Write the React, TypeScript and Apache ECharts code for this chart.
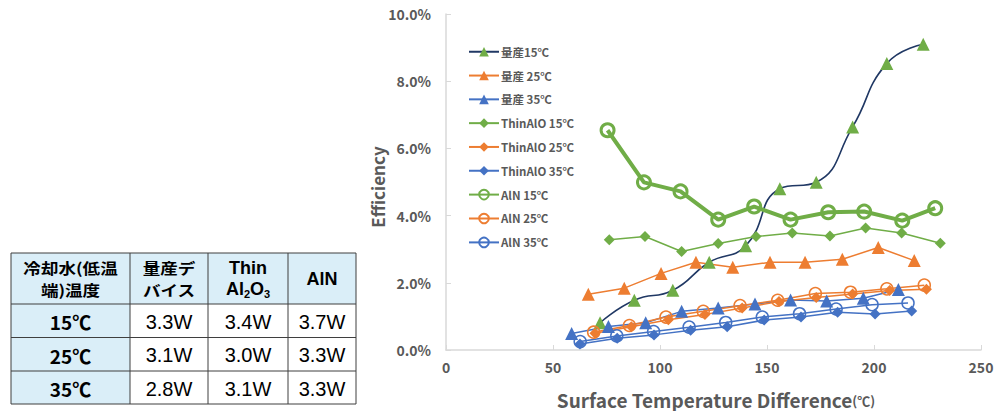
import React, { useEffect, useRef } from "react";
import * as echarts from "echarts";

// ---------- data ----------
const xTicks = { min: 0, max: 250, interval: 50 };
const yTicks = { min: 0, max: 10, interval: 2 };

const seriesNames = [
  "量産15℃",
  "量産 25℃",
  "量産 35℃",
  "ThinAlO 15℃",
  "ThinAlO 25℃",
  "ThinAlO 35℃",
  "AlN 15℃",
  "AlN 25℃",
  "AlN 35℃",
];

const mass15X = [72, 88, 106, 123, 140, 156, 173, 190, 206, 223];
const mass15Y = [0.81, 1.48, 1.78, 2.61, 3.1, 4.8, 4.99, 6.64, 8.53, 9.1];
const mass25X = [66.5, 83.3, 100.5, 116.8, 134, 151.4, 167.8, 185.2, 202, 218.8];
const mass25Y = [1.66, 1.84, 2.28, 2.61, 2.46, 2.61, 2.61, 2.7, 3.05, 2.66];
const mass35X = [58.7, 75.9, 93.3, 110.1, 127.2, 144.4, 161, 177.9, 195, 211.4];
const mass35Y = [0.49, 0.7, 0.81, 1.15, 1.25, 1.37, 1.49, 1.46, 1.54, 1.8];

const thin15X = [76.3, 93, 110.1, 127.2, 144.9, 161.8, 179.4, 196.1, 212.9, 231];
const thin15Y = [3.28, 3.38, 2.93, 3.17, 3.38, 3.48, 3.39, 3.63, 3.48, 3.18];
const thin25X = [69.6, 86.6, 103.9, 121, 138.4, 155.6, 173, 190, 207.3, 224.5];
const thin25Y = [0.5, 0.69, 0.9, 1.06, 1.25, 1.44, 1.56, 1.67, 1.77, 1.81];
const thin35X = [62.6, 80, 97.2, 114.3, 131.4, 148.7, 165.9, 183, 200.5, 217.6];
const thin35Y = [0.18, 0.35, 0.45, 0.59, 0.69, 0.89, 0.98, 1.12, 1.07, 1.16];

const aln15X = [75.5, 92.5, 109.6, 127.2, 144, 161, 178.6, 195.4, 213.2, 228.6];
const aln15Y = [6.54, 4.99, 4.72, 3.88, 4.27, 3.88, 4.1, 4.12, 3.85, 4.22];
const aln25X = [69, 85.7, 102.8, 120.2, 137.4, 155, 172.6, 189, 206, 223.5];
const aln25Y = [0.53, 0.73, 0.98, 1.15, 1.32, 1.48, 1.68, 1.72, 1.82, 1.93];
const aln35X = [62.7, 79.8, 97, 113.6, 130.7, 147.8, 165.2, 182.3, 199.1, 215.9];
const aln35Y = [0.25, 0.42, 0.55, 0.68, 0.82, 0.98, 1.08, 1.22, 1.35, 1.4];

const tableHeader = ["冷却水(低温\n端)温度", "量産デ\nバイス", "Thin\nAl2O3", "AlN"];
const tableRowLabels = ["15℃", "25℃", "35℃"];
const tableValues = [
  ["3.3W", "3.4W", "3.7W"],
  ["3.1W", "3.0W", "3.3W"],
  ["2.8W", "3.1W", "3.3W"],
];

const xTitle = "Surface Temperature Difference";
const xTitleUnit = "(℃)";
const yTitle = "Efficiency";

// ---------- styles ----------
const BLUE = "#4472C4";
const ORANGE = "#ED7D31";
const GREEN = "#70AD47";
const NAVY = "#203864";
const GRAY = "#595959";
const AXIS = "#D9D9D9";
const CJK = '"Noto Sans CJK JP", "Noto Sans", sans-serif';
const ARIAL = '"Liberation Sans", Arial, sans-serif';

function zip(xs: number[], ys: number[]) {
  return xs.map((x, i) => [x, ys[i]]);
}

function measure(text: string, font: string) {
  const c = document.createElement("canvas").getContext("2d")!;
  c.font = font;
  return c.measureText(text).width;
}

function buildTable(): any[] {
  const els: any[] = [];
  const colX = [11, 130, 208, 288, 356];
  const rowY = [253, 304, 337.5, 371, 404];
  const HEAD_BG = "#DAEEF8";
  const LINE = "#3F3F3F";
  for (let r = 0; r < 4; r++) {
    for (let c = 0; c < 4; c++) {
      const bg = r === 0 || c === 0 ? HEAD_BG : "#FFFFFF";
      els.push({
        type: "rect",
        shape: { x: colX[c], y: rowY[r], width: colX[c + 1] - colX[c], height: rowY[r + 1] - rowY[r] },
        style: { fill: bg },
        silent: true,
      });
    }
  }
  for (const y of rowY) {
    els.push({ type: "line", shape: { x1: colX[0], y1: y, x2: colX[4], y2: y }, style: { stroke: LINE, lineWidth: 1 } });
  }
  for (const x of colX) {
    els.push({ type: "line", shape: { x1: x, y1: rowY[0], x2: x, y2: rowY[4] }, style: { stroke: LINE, lineWidth: 1 } });
  }
  const headFont = 17;
  const cx = (c: number) => (colX[c] + colX[c + 1]) / 2;
  [0, 1].forEach((c) => {
    tableHeader[c].split("\n").forEach((ln, i) => {
      els.push({
        type: "text",
        x: cx(c),
        y: 267.5 + i * 22,
        scaleX: 1.17,
        style: {
          text: ln,
          font: `bold 15px ${CJK}`,
          lineHeight: 15,
          fill: "#000",
          align: "center",
          verticalAlign: "middle",
        },
      });
    });
  });
  {
    const lines = tableHeader[2].split("\n");
    els.push({
      type: "text",
      x: cx(2),
      y: 268,
      style: {
        text: lines[0],
        font: `bold ${headFont + 1}px ${ARIAL}`,
        lineHeight: 18,
        fill: "#000",
        align: "center",
        verticalAlign: "middle",
      },
    });
    const parts = [
      { t: "Al", s: headFont + 1, dy: 0 },
      { t: "2", s: 11, dy: 5 },
      { t: "O", s: headFont + 1, dy: 0 },
      { t: "3", s: 11, dy: 5 },
    ];
    const widths = parts.map((p) => measure(p.t, `bold ${p.s}px ${ARIAL}`));
    const total = widths.reduce((a, b) => a + b, 0);
    let x = cx(2) - total / 2;
    parts.forEach((p, i) => {
      els.push({
        type: "text",
        x,
        y: 289 + p.dy,
        style: {
          text: p.t,
          font: `bold ${p.s}px ${ARIAL}`,
          lineHeight: p.s,
          fill: "#000",
          align: "left",
          verticalAlign: "middle",
        },
      });
      x += widths[i];
    });
  }
  els.push({
    type: "text",
    x: cx(3),
    y: 279,
    style: {
      text: tableHeader[3],
      font: `bold ${headFont + 1}px ${ARIAL}`,
      fill: "#000",
      align: "center",
      verticalAlign: "middle",
    },
  });
  tableRowLabels.forEach((lab, r) => {
    const yc = (rowY[r + 1] + rowY[r + 2]) / 2 + 1;
    els.push({
      type: "text",
      x: cx(0),
      y: yc,
      style: { text: lab, font: `bold 19px ${CJK}`, lineHeight: 22, fill: "#000", align: "center", verticalAlign: "middle" },
    });
    tableValues[r].forEach((v, c) => {
      els.push({
        type: "text",
        x: cx(c + 1),
        y: yc,
        style: { text: v, font: `20px ${ARIAL}`, fill: "#000", align: "center", verticalAlign: "middle" },
      });
    });
  });
  return els;
}

function buildXTitle(): any[] {
  const fA = `bold 19px ${CJK}`;
  const fB = `bold 13px ${CJK}`;
  const wA = measure(xTitle, fA);
  const wB = measure(xTitleUnit, fB);
  const x0 = 716 - (wA + wB) / 2;
  return [
    {
      type: "text",
      x: x0,
      y: 399,
      style: { text: xTitle, font: fA, lineHeight: 19, fill: GRAY, align: "left", verticalAlign: "middle" },
    },
    {
      type: "text",
      x: x0 + wA,
      y: 400,
      style: { text: xTitleUnit, font: fB, lineHeight: 13, fill: GRAY, align: "left", verticalAlign: "middle" },
    },
  ];
}

export default function App() {
  const ref = useRef<HTMLDivElement>(null);

  useEffect(() => {
    if (!ref.current) return;
    const chart = echarts.init(ref.current, undefined, { renderer: "svg" });

    const mk = (
      name: string,
      xs: number[],
      ys: number[],
      lineColor: string,
      markColor: string,
      symbol: string,
      size: number,
      lw: number,
      opts: any = {}
    ) => ({
      name,
      type: "line",
      data: zip(xs, ys),
      symbol,
      symbolSize: size,
      showSymbol: true,
      lineStyle: { color: lineColor, width: lw },
      itemStyle: { color: markColor, borderColor: markColor, borderWidth: 0, opacity: 1 },
      ...opts,
    });

    const hollow = (color: string, bw: number) => ({
      itemStyle: { color: "rgba(255,255,255,0)", borderColor: color, borderWidth: bw, opacity: 1 },
    });

    const series: any[] = [
      mk(seriesNames[0], mass15X, mass15Y, NAVY, GREEN, "triangle", 13, 1.6, { smooth: 0.5 }),
      mk(seriesNames[1], mass25X, mass25Y, ORANGE, ORANGE, "triangle", 13, 1.5),
      mk(seriesNames[2], mass35X, mass35Y, BLUE, BLUE, "triangle", 13, 1.5),
      mk(seriesNames[3], thin15X, thin15Y, GREEN, GREEN, "diamond", 11, 1.5),
      mk(seriesNames[4], thin25X, thin25Y, ORANGE, ORANGE, "diamond", 11, 1.5),
      mk(seriesNames[5], thin35X, thin35Y, BLUE, BLUE, "diamond", 11, 1.5),
      mk(seriesNames[6], aln15X, aln15Y, GREEN, GREEN, "circle", 13, 4, hollow(GREEN, 3)),
      mk(seriesNames[7], aln25X, aln25Y, ORANGE, ORANGE, "circle", 12, 1.5, hollow(ORANGE, 1.5)),
      mk(seriesNames[8], aln35X, aln35Y, BLUE, BLUE, "circle", 12, 1.5, hollow(BLUE, 1.5)),
    ];

    chart.setOption({
      animation: false,
      backgroundColor: "#FFFFFF",
      textStyle: { fontFamily: CJK },
      grid: { left: 446, right: 19, top: 14, bottom: 61, containLabel: false },
      legend: {
        show: true,
        orient: "vertical",
        left: 463,
        top: 41,
        itemWidth: 30,
        itemHeight: 12,
        itemGap: 12.3,
        data: seriesNames,
        textStyle: { color: GRAY, fontSize: 11.5, fontWeight: "bold", fontFamily: CJK, padding: [0, 0, 0, -3] },
      },
      xAxis: {
        type: "value",
        min: xTicks.min,
        max: xTicks.max,
        interval: xTicks.interval,
        axisLine: { show: true, lineStyle: { color: AXIS, width: 1.5 } },
        axisTick: { show: true, inside: true, length: 5, lineStyle: { color: AXIS } },
        splitLine: { show: false },
        axisLabel: { color: GRAY, fontSize: 14, fontWeight: "bold", margin: 10, fontFamily: CJK },
      },
      yAxis: {
        type: "value",
        min: yTicks.min,
        max: yTicks.max,
        interval: yTicks.interval,
        axisLine: { show: true, lineStyle: { color: AXIS, width: 1.5 } },
        axisTick: { show: true, inside: true, length: 5, lineStyle: { color: AXIS } },
        splitLine: { show: false },
        axisLabel: {
          color: GRAY,
          fontSize: 14,
          fontWeight: "bold",
          margin: 15,
          fontFamily: CJK,
          formatter: (v: number) => `${v.toFixed(1)}%`,
        },
      },
      graphic: [
        ...buildTable(),
        {
          type: "text",
          x: 377,
          y: 187,
          rotation: Math.PI / 2,
          style: {
            text: yTitle,
            font: `bold 17px ${CJK}`,
            lineHeight: 20,
            fill: GRAY,
            align: "center",
            verticalAlign: "middle",
          },
        },
        ...buildXTitle(),
      ],
      series,
    });

    return () => chart.dispose();
  }, []);

  return (
    <div
      ref={ref}
      style={{ position: "fixed", left: 0, top: 0, width: 1000, height: 411, background: "#fff" }}
    />
  );
}
